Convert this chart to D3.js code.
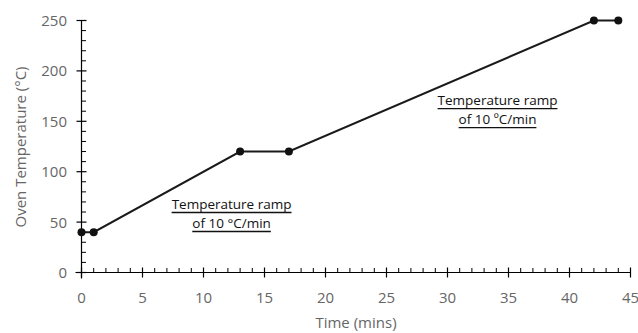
<!DOCTYPE html>
<html><head><meta charset="utf-8">
<script src="https://cdn.jsdelivr.net/npm/d3@7"></script>
<style>
body{margin:0;background:#fff;}
text{font-family:"Open Sans","Noto Sans",sans-serif;}
</style></head>
<body><svg id="c" width="638" height="333"></svg>
<script>
const times = [0, 1, 13, 17, 42, 44];
const temps = [40, 40, 120, 120, 250, 250];
const xTicks = [0,5,10,15,20,25,30,35,40,45];
const yTicks = [0,50,100,150,200,250];
const xTitle = "Time (mins)";
const yTitle = "Oven Temperature (°C)";
const annotations = [
  {t: 12.3, v: 63, lines: ["Temperature ramp", "of 10 °C/min"]},
  {t: 34.1, v: 166, lines: ["Temperature ramp", "of 10 ºC/min"]}
];

const svg = d3.select("#c");
const x = d3.scaleLinear().domain([0,45]).range([81.5, 630.5]);
const y = d3.scaleLinear().domain([0,250]).range([272.5, 20.5]);
const axisColor = "#000";
const labelColor = "#666";

const g = svg.append("g");
g.append("line").attr("x1", x(0)-6).attr("x2", x(45)).attr("y1", y(0)).attr("y2", y(0))
 .attr("stroke", axisColor).attr("stroke-width", 1.2);
g.append("line").attr("x1", x(0)).attr("x2", x(0)).attr("y1", y(250)).attr("y2", y(0)+6)
 .attr("stroke", axisColor).attr("stroke-width", 1.2);

d3.range(1,45).filter(d=>d%5!==0).forEach(d=>{
  g.append("line").attr("x1", x(d)).attr("x2", x(d)).attr("y1", y(0)).attr("y2", y(0)-4.5)
   .attr("stroke", axisColor).attr("stroke-width", 1);
});
xTicks.forEach(d=>{
  g.append("line").attr("x1", x(d)).attr("x2", x(d)).attr("y1", y(0)-5).attr("y2", y(0)+5)
   .attr("stroke", axisColor).attr("stroke-width", 1.2);
  g.append("text").attr("x", x(d)).attr("y", 303).attr("text-anchor","middle")
   .attr("font-size", 15).attr("fill", labelColor).text(d);
});
d3.range(10,250,10).filter(d=>d%50!==0).forEach(d=>{
  g.append("line").attr("x1", x(0)).attr("x2", x(0)+4.5).attr("y1", y(d)).attr("y2", y(d))
   .attr("stroke", axisColor).attr("stroke-width", 1);
});
yTicks.forEach(d=>{
  g.append("line").attr("x1", x(0)-5).attr("x2", x(0)+5).attr("y1", y(d)).attr("y2", y(d))
   .attr("stroke", axisColor).attr("stroke-width", 1.2);
  g.append("text").attr("x", 67).attr("y", y(d)).attr("dy","0.36em").attr("text-anchor","end")
   .attr("font-size", 15).attr("fill", labelColor).text(d);
});
svg.append("text").attr("x", (x(0)+x(45))/2).attr("y", 328).attr("text-anchor","middle")
 .attr("font-size", 15).attr("fill", labelColor).text(xTitle);
svg.append("text").attr("transform","translate(26,147) rotate(-90)").attr("text-anchor","middle")
 .attr("font-size", 15).attr("fill", labelColor).text(yTitle);

const pts = times.map((t,i)=>[t,temps[i]]);
svg.append("path").datum(pts)
 .attr("d", d3.line().x(d=>x(d[0])).y(d=>y(d[1])))
 .attr("fill","none").attr("stroke","#1a1a1a").attr("stroke-width",2);
svg.selectAll("circle.m").data(pts).enter().append("circle")
 .attr("cx", d=>x(d[0])).attr("cy", d=>y(d[1])).attr("r", 4).attr("fill","#111");

annotations.forEach(a=>{
  const cx = x(a.t), cy = y(a.v);
  a.lines.forEach((s,i)=>{
    const t = svg.append("text").attr("x", cx).attr("y", cy + i*19).attr("text-anchor","middle")
      .attr("font-size", 13.5).attr("fill","#111").text(s);
    const w = t.node().getComputedTextLength();
    svg.append("line").attr("x1", cx - w/2).attr("x2", cx + w/2)
      .attr("y1", cy + i*19 + 3.5).attr("y2", cy + i*19 + 3.5)
      .attr("stroke","#111").attr("stroke-width",1.3);
  });
});
</script></body></html>
